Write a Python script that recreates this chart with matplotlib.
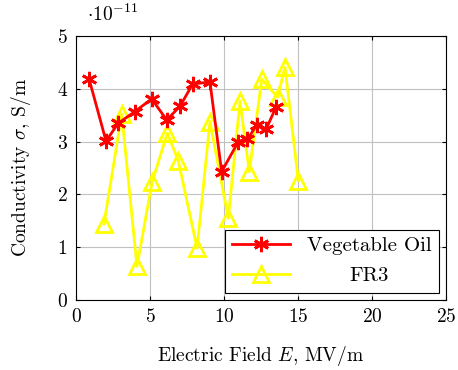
import matplotlib
matplotlib.use('Agg')
import matplotlib.pyplot as plt

plt.rcParams['font.family'] = ['cmr10', 'DejaVu Serif']
plt.rcParams['mathtext.fontset'] = 'cm'
plt.rcParams['axes.formatter.use_mathtext'] = True
plt.rcParams['axes.unicode_minus'] = False

# data, conductivity in units of 1e-11 S/m
veg_field = [0.88, 2.03, 2.86, 3.99, 5.11, 6.13, 7.03, 7.88, 9.05,
             9.84, 10.97, 11.58, 12.2, 12.84, 13.51]
veg_sigma = [4.19, 3.01, 3.35, 3.57, 3.81, 3.41, 3.67, 4.09, 4.13,
             2.43, 3.0, 3.04, 3.31, 3.23, 3.65]

fr3_field = [1.89, 3.09, 4.12, 5.14, 6.17, 6.91, 8.18, 9.05, 10.29,
             11.08, 11.71, 12.55, 13.62, 14.12, 15.02]
fr3_sigma = [1.44, 3.52, 0.64, 2.23, 3.16, 2.64, 0.98, 3.38, 1.55,
             3.76, 2.43, 4.18, 3.84, 4.41, 2.26]

fig = plt.figure(figsize=(4.58, 3.70), dpi=100)
ax = fig.add_axes([76 / 458, 70 / 370, 370 / 458, 264 / 370])

ax.plot(veg_field, veg_sigma, color='red', lw=2, marker=(6, 2, 0),
        ms=11, mew=2, label='Vegetable Oil', zorder=3)
ax.plot(fr3_field, fr3_sigma, color='#ffff00', lw=2, marker='^',
        ms=11, mew=2, mfc='none', label='FR3', zorder=2)

ax.set_xlim(0, 25)
ax.set_ylim(0, 5)
ax.set_xticks([0, 5, 10, 15, 20, 25])
ax.set_yticks([0, 1, 2, 3, 4, 5])
ax.grid(True, color='#c0c0c0', lw=0.8)
ax.set_axisbelow(True)
ax.tick_params(direction='in', top=True, right=True, labelsize=14,
               length=3, pad=6)
for s in ax.spines.values():
    s.set_linewidth(0.8)

ax.set_xlabel(r'Electric Field $E$, MV/m', fontsize=14, labelpad=13)
ax.set_ylabel(r'Conductivity $\sigma$, S/m', fontsize=14, labelpad=17)
ax.text(0.03, 1.04, r'$\cdot10^{-11}$', transform=ax.transAxes,
        fontsize=14, ha='left', va='bottom')

leg = ax.legend(loc='lower right', fontsize=15, fancybox=False,
                edgecolor='black', framealpha=1, borderpad=0.35,
                handlelength=2.8, borderaxespad=0.35, labelspacing=0.55)
leg.get_frame().set_linewidth(0.8)
# centre the shorter legend label like pgfplots does
rend = fig.canvas.get_renderer()
widths = [t.get_window_extent(rend).width for t in leg.get_texts()]
w = max(widths)
for t, tw in zip(leg.get_texts(), widths):
    t.set_position(((w - tw) / 2, 0))

fig.savefig('out.png', dpi=100)
